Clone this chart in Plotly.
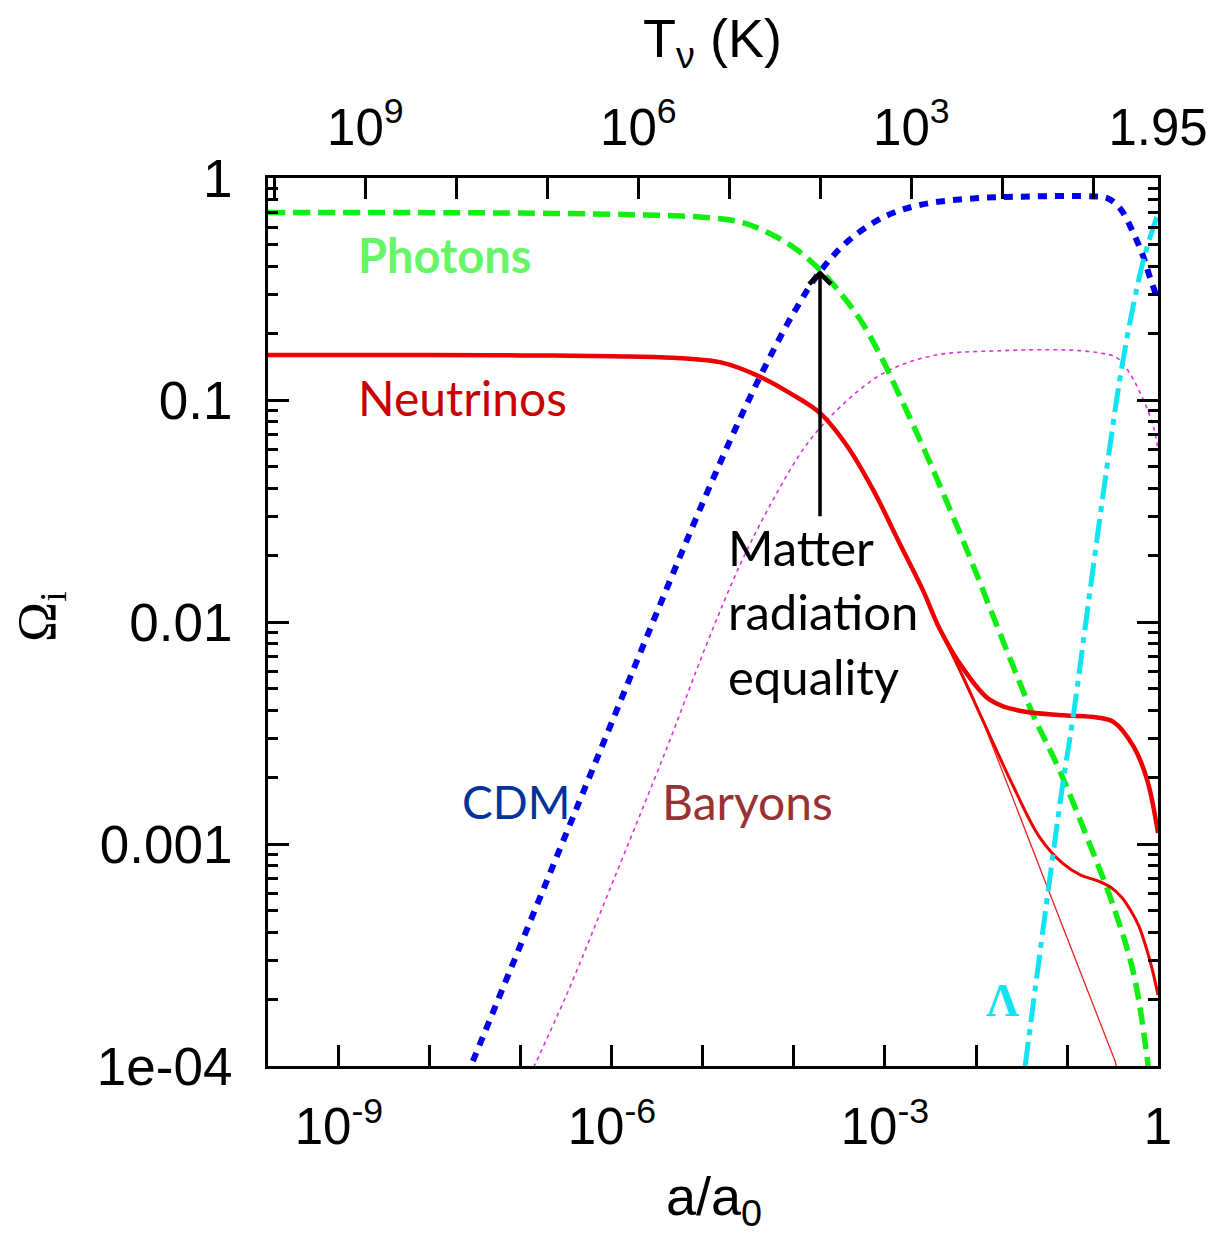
import plotly.graph_objects as go

# ---- data: log10(a/a0) and log10(Omega_i) ----
photon_loga = [-9.78, -8.0, -7.0, -6.0, -5.5, -5.03, -4.59, -4.30, -4.01, -3.75, -3.49, -3.27, -3.05,
               -2.84, -2.54, -2.10, -1.66, -1.37, -1.08, -0.78, -0.49, -0.27, -0.12, -0.09]
photon_logo = [-0.155, -0.156, -0.158, -0.163, -0.168, -0.176, -0.198, -0.243, -0.311, -0.40, -0.518, -0.64, -0.80,
               -0.98, -1.25, -1.676, -2.13, -2.42, -2.67, -2.97, -3.28, -3.58, -3.96, -4.08]

cdm_loga = [-7.6, -7.0, -6.5, -6.0, -5.5, -5.0, -4.6, -4.3, -4.0, -3.71, -3.4, -3.0, -2.6, -2.0,
            -1.5, -1.0, -0.7, -0.56, -0.42, -0.27, -0.16, -0.09, 0.0]
cdm_logo = [-4.05, -3.45, -2.95, -2.45, -1.95, -1.46, -1.09, -0.835, -0.605, -0.42, -0.282, -0.173, -0.12, -0.091,
            -0.084, -0.081, -0.083, -0.090, -0.135, -0.248, -0.356, -0.446, -0.55]

baryon_loga = [-6.9, -6.5, -6.0, -5.40, -4.96, -4.59, -4.23, -3.86, -3.49, -3.02, -2.47, -1.74,
               -1.0, -0.64, -0.45, -0.31, -0.16, -0.05, 0.0]
baryon_logo = [-4.04, -3.68, -3.18, -2.57, -2.10, -1.74, -1.45, -1.20, -1.03, -0.88, -0.80, -0.778,
               -0.775, -0.788, -0.81, -0.88, -1.0, -1.12, -1.22]

# neutrinos: common part + upper (heaviest) branch
nu_loga = [-9.78, -8.0, -7.0, -6.0, -5.33, -4.78, -4.37, -4.04, -3.71, -3.42, -3.13, -2.84, -2.58, -2.40,
           -2.14, -1.85, -1.52, -1.04, -0.67, -0.49, -0.27, -0.12, 0.0]
nu_logo = [-0.797, -0.797, -0.799, -0.803, -0.81, -0.833, -0.896, -0.97, -1.06, -1.205, -1.405, -1.645, -1.86, -2.03,
           -2.21, -2.35, -2.40, -2.42, -2.43, -2.45, -2.56, -2.71, -2.95]
# neutrinos: middle branch
nu_mid_loga = [-2.40, -2.14, -1.94, -1.59, -1.30, -1.04, -0.85, -0.67, -0.52, -0.40, -0.30, -0.21,
               -0.12, -0.06, 0.0]
nu_mid_logo = [-2.03, -2.25, -2.43, -2.74, -2.97, -3.09, -3.14, -3.165, -3.195, -3.24, -3.30, -3.37,
               -3.48, -3.57, -3.68]
# neutrinos: massless branch
nu_thin_loga = [-2.40, -1.94, -1.22, -0.47, -0.44]
nu_thin_logo = [-2.03, -2.43, -3.19, -3.98, -4.03]

lambda_loga = [-1.46, -1.21, -1.05, -0.93, -0.75, -0.56, -0.38, -0.16, 0.0]
lambda_logo = [-4.0, -3.22, -2.74, -2.42, -1.87, -1.30, -0.81, -0.37, -0.16]

# bottom axis: labelled decades and unlabelled decade ticks
x_label_exp = [-9, -6, -3, 0]
x_label_text = ["10<sup>-9</sup>", "10<sup>-6</sup>", "10<sup>-3</sup>", "1"]
x_other_exp = [-8, -7, -5, -4, -2, -1]
y_tick_vals = [1e-4, 1e-3, 1e-2, 1e-1, 1]
y_tick_text = ["1e-04", "0.001", "0.01", "0.1", "1"]
# top axis: neutrino temperature
T_label = [1e9, 1e6, 1e3, 1.95]
T_label_text = ["10<sup>9</sup>", "10<sup>6</sup>", "10<sup>3</sup>", "1.95"]
T_other = [1e10, 1e8, 1e7, 1e5, 1e4, 1e2, 1e1]
T_today = 1.95

equality_loga = -3.714
equality_logo = -0.414
equality_tail_logo = -1.53


def p(vals):
    return [10 ** v for v in vals]


fig = go.Figure()
fig.add_trace(go.Scatter(x=p(cdm_loga), y=p(cdm_logo), mode="lines", line_shape="spline",
                         line=dict(color="#0000ee", width=6, dash="9px,8px")))
fig.add_trace(go.Scatter(x=p(baryon_loga), y=p(baryon_logo), mode="lines", line_shape="spline",
                         line=dict(color="#e030e0", width=1.6, dash="4px,4px")))
fig.add_trace(go.Scatter(x=p(photon_loga), y=p(photon_logo), mode="lines", line_shape="spline",
                         line=dict(color="#11ee11", width=5.5, dash="17px,8px")))
fig.add_trace(go.Scatter(x=p(nu_thin_loga), y=p(nu_thin_logo), mode="lines",
                         line=dict(color="#ee2020", width=1.3)))
fig.add_trace(go.Scatter(x=p(nu_mid_loga), y=p(nu_mid_logo), mode="lines", line_shape="spline",
                         line=dict(color="#ee0000", width=3)))
fig.add_trace(go.Scatter(x=p(nu_loga), y=p(nu_logo), mode="lines", line_shape="spline",
                         line=dict(color="#ee0000", width=4.5)))
fig.add_trace(go.Scatter(x=p(lambda_loga), y=p(lambda_logo), mode="lines", line_shape="spline",
                         line=dict(color="#11e4f0", width=5, dash="24px,7px,6px,7px")))
# dummy trace for the top temperature axis
fig.add_trace(go.Scatter(x=[10 ** -9.78, 1], y=[1e-3, 1e-3], xaxis="x2", mode="lines",
                         line=dict(width=0), opacity=0, hoverinfo="skip"))

tick_font = dict(family="Liberation Sans, Arial", size=51, color="black")
label_font = "Lato, Open Sans, sans-serif"
decade_minor = dict(ticks="inside", ticklen=21, tickwidth=3, tickcolor="black", tickmode="array")

x_range = [-9.78, 0]
# the page body adds an 8px offset, so margins are 8px smaller on the left/top
fig.update_layout(
    width=1216, height=1234,
    margin=dict(l=260, r=66, t=170, b=176, autoexpand=False),
    paper_bgcolor="white", plot_bgcolor="white",
    showlegend=False,
    xaxis=dict(type="log", range=x_range, showgrid=False, zeroline=False,
               showline=True, linecolor="black", linewidth=3, mirror=False,
               ticks="inside", ticklen=21, tickwidth=3, tickcolor="black",
               tickmode="array", tickvals=[10 ** e for e in x_label_exp], ticktext=x_label_text,
               tickfont=tick_font, ticklabelstandoff=14,
               minor=dict(decade_minor, tickvals=[10 ** e for e in x_other_exp])),
    xaxis2=dict(type="log", range=x_range, overlaying="x", side="top", showgrid=False, zeroline=False,
                showline=True, linecolor="black", linewidth=3,
                ticks="inside", ticklen=21, tickwidth=3, tickcolor="black",
                tickmode="array", tickvals=[T_today / t for t in T_label], ticktext=T_label_text,
                tickfont=tick_font, ticklabelstandoff=10,
                minor=dict(decade_minor, tickvals=[T_today / t for t in T_other])),
    yaxis=dict(type="log", range=[-4, 0], showgrid=False, zeroline=False,
               showline=True, linecolor="black", linewidth=3, mirror="ticks",
               ticks="inside", ticklen=21, tickwidth=3, tickcolor="black",
               tickmode="array", tickvals=y_tick_vals, ticktext=y_tick_text,
               tickfont=dict(family="Liberation Sans, Arial", size=53, color="black"),
               ticklabelstandoff=22,
               minor=dict(ticks="inside", ticklen=10, tickwidth=3, tickcolor="black",
                          tickmode="array",
                          tickvals=[m * 10 ** e for e in [-4, -3, -2, -1] for m in range(2, 10)])),
)

# screen position of the plot area (pixels)
W, H, L, B = 890.0, 888.0, 268.0, 1066.0


def px(xp):
    return (xp - L) / W


def py(yp):
    return (B - yp) / H


ann = []
ann.append(dict(text="<b>Photons</b>", x=px(356), y=py(255), xanchor="left", yanchor="middle",
                font=dict(family=label_font, size=47, color="#66f566")))
ann.append(dict(text="Neutrinos", x=px(356), y=py(397), xanchor="left", yanchor="middle",
                font=dict(family=label_font, size=48, color="#c80000")))
for txt, yy in [("Matter", 547), ("radiation", 611), ("equality", 676)]:
    ann.append(dict(text=txt, x=px(726), y=py(yy), xanchor="left", yanchor="middle",
                    font=dict(family=label_font, size=49, color="black")))
ann.append(dict(text="CDM", x=px(460), y=py(801), xanchor="left", yanchor="middle",
                font=dict(family=label_font, size=46, color="#003399")))
ann.append(dict(text="Baryons", x=px(660), y=py(801), xanchor="left", yanchor="middle",
                font=dict(family=label_font, size=48, color="#993333")))
ann.append(dict(text="<b>Λ</b>", x=px(1002), y=py(1000), xanchor="center", yanchor="middle",
                font=dict(family="Liberation Serif, serif", size=46, color="#11e4f0")))
ann.append(dict(text="T<sub>ν</sub> (K)", x=px(712), y=py(42), xanchor="center", yanchor="middle",
                font=dict(family="Liberation Sans, Arial", size=54, color="black")))
ann.append(dict(text="a/a<sub>0</sub>", x=px(714), y=py(1200), xanchor="center", yanchor="middle",
                font=dict(family="Liberation Sans, Arial", size=54, color="black")))
ann.append(dict(text="Ω<sub>i</sub>", x=px(40), y=py(617), xanchor="center", yanchor="middle",
                textangle=-90, font=dict(family="Liberation Serif, serif", size=54, color="black")))
for a in ann:
    a.update(xref="paper", yref="paper", showarrow=False)

ann.append(dict(x=equality_loga, y=equality_logo, ax=equality_loga, ay=equality_tail_logo,
                xref="x", yref="y", axref="x", ayref="y", text="", showarrow=True,
                arrowhead=4, arrowsize=1.2, arrowwidth=3.5, arrowcolor="black"))
fig.update_layout(annotations=ann)

fig.write_html("out.html")
